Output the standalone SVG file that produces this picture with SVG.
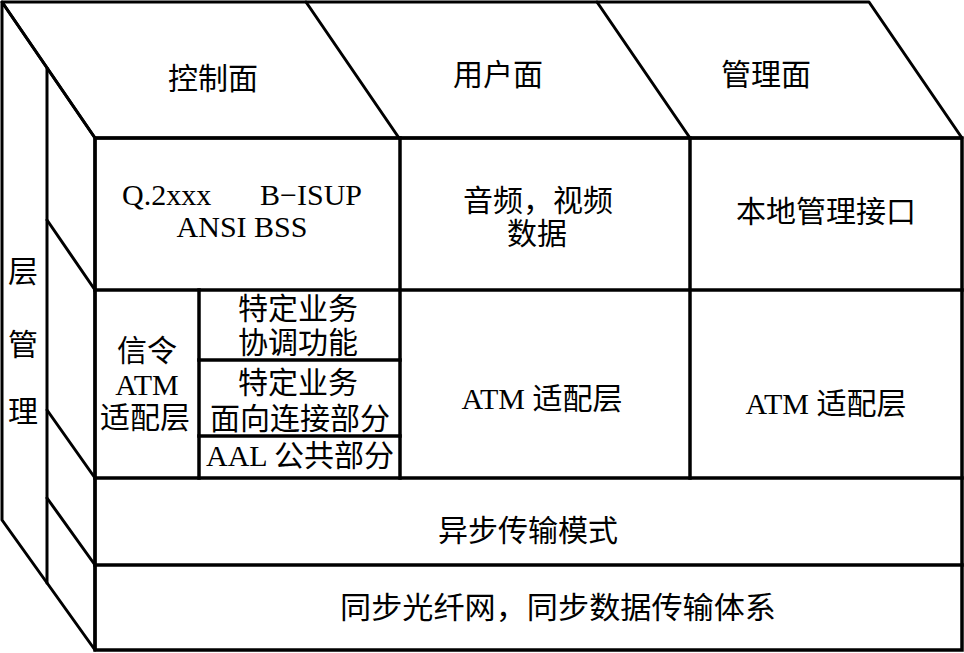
<svg xmlns="http://www.w3.org/2000/svg" width="964" height="653" viewBox="0 0 964 653">
<style>
.bg{fill:#fff}
.thick{fill:none;stroke:#000;stroke-width:3.5;stroke-linejoin:miter;stroke-linecap:square}
.edge{fill:none;stroke:#000;stroke-width:3;stroke-linecap:round;stroke-linejoin:round}
text{font-family:"Liberation Serif","Noto Sans CJK SC",serif;font-size:30px;fill:#000;text-anchor:middle}
</style>
<rect class="bg" x="0" y="0" width="964" height="653"/>
<g id="top-face">
<polygon class="edge" points="2,2 869,2 962,138 95,138"/>
<line class="edge" x1="306" y1="2" x2="399" y2="138"/>
<line class="edge" x1="597" y1="2" x2="690" y2="138"/>
<text x="213" y="89">控制面</text>
<text x="498" y="85">用户面</text>
<text x="766" y="85">管理面</text>
</g>
<g id="layer-management">
<polygon class="edge" points="2,2 95,138 95,650 2,520"/>
<line class="edge" x1="47" y1="68" x2="47" y2="583"/>
<line class="edge" x1="47" y1="220" x2="95" y2="290"/>
<line class="edge" x1="47" y1="410" x2="95" y2="478"/>
<line class="edge" x1="47" y1="498" x2="95" y2="565"/>
<text x="23" y="282">层</text>
<text x="23" y="355">管</text>
<text x="23" y="422">理</text>
</g>
<g id="front-face">
<rect class="thick" x="95" y="138" width="867" height="512"/>
<line class="thick" x1="95" y1="290" x2="962" y2="290"/>
<line class="thick" x1="95" y1="478" x2="962" y2="478"/>
<line class="thick" x1="95" y1="565" x2="962" y2="565"/>
<line class="thick" x1="400" y1="138" x2="400" y2="478"/>
<line class="thick" x1="690" y1="138" x2="690" y2="478"/>
</g>
<g id="control-protocols">
<text x="122" y="205" style="text-anchor:start">Q.2xxx</text>
<text x="362" y="205" style="text-anchor:end">B−ISUP</text>
<text x="242" y="237">ANSI BSS</text>
</g>
<g id="user-data">
<text x="538" y="211">音频，视频</text>
<text x="537" y="244">数据</text>
</g>
<g id="local-mgmt">
<text x="826" y="222">本地管理接口</text>
</g>
<g id="signalling-aal">
<line class="thick" x1="199" y1="290" x2="199" y2="478"/>
<text x="147" y="361">信令</text>
<text x="147" y="395">ATM</text>
<text x="145" y="428">适配层</text>
</g>
<g id="sscf">
<text x="298" y="319">特定业务</text>
<text x="298" y="353">协调功能</text>
</g>
<g id="sscop">
<line class="thick" x1="199" y1="360" x2="400" y2="360"/>
<text x="298" y="393">特定业务</text>
<text x="300" y="429">面向连接部分</text>
</g>
<g id="aal-common">
<line class="thick" x1="199" y1="436" x2="400" y2="436"/>
<text x="300" y="466">AAL 公共部分</text>
</g>
<g id="user-aal">
<text x="542" y="409">ATM 适配层</text>
</g>
<g id="mgmt-aal">
<text x="826" y="414">ATM 适配层</text>
</g>
<g id="atm">
<text x="528" y="541">异步传输模式</text>
</g>
<g id="sdh">
<text x="558" y="618" textLength="436" lengthAdjust="spacingAndGlyphs">同步光纤网，同步数据传输体系</text>
</g>
<g id="connectors"></g>
</svg>
